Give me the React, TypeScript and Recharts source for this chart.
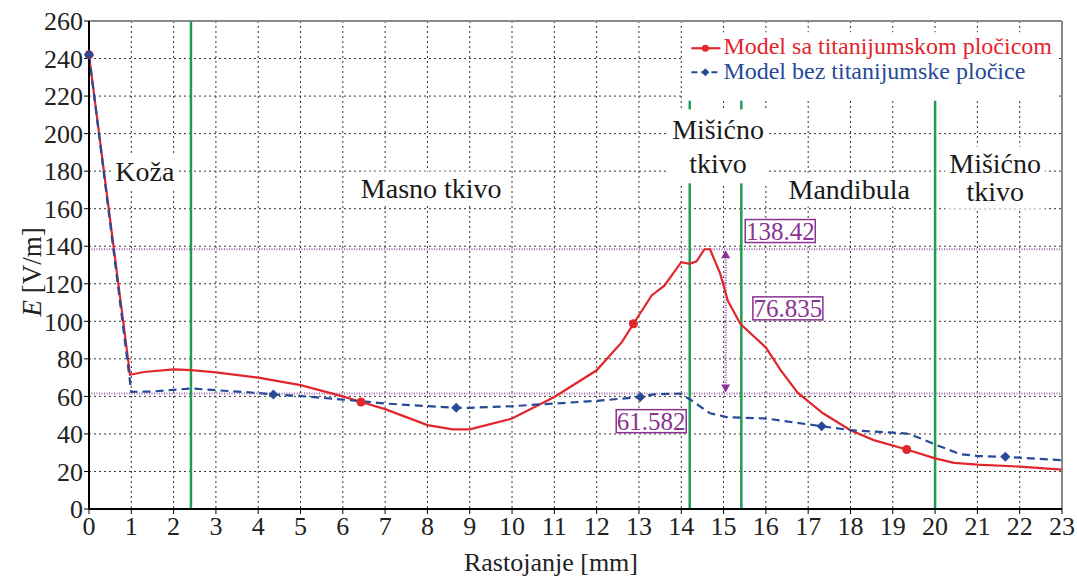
import React from "react";
import {
  LineChart,
  Line,
  XAxis,
  YAxis,
  CartesianGrid,
  ReferenceLine,
  ReferenceDot,
} from "recharts";

const FONT = '"Liberation Serif"';
const RED = "#e1262c";
const BLUE = "#264a98";
const GREEN = "#1f9d55";
const PURPLE = "#8a3391";
const PURPLE_LINE = "#a469b0";

// axis ticks
const xTicks = [0, 1, 2, 3, 4, 5, 6, 7, 8, 9, 10, 11, 12, 13, 14, 15, 16, 17, 18, 19, 20, 21, 22, 23];
const yTicks = [0, 20, 40, 60, 80, 100, 120, 140, 160, 180, 200, 220, 240, 260];

// Model sa titanijumskom pločicom
const redX = [0, 0.97, 1.3, 2, 2.42, 3, 4, 5, 6, 6.43, 7, 8, 8.6, 9, 10, 11, 12, 12.6, 12.87, 13.3, 13.6, 14.0, 14.2, 14.36, 14.55, 14.68, 14.92, 15.1, 15.4, 16.0, 16.35, 16.75, 17.35, 18.0, 18.55, 19.33, 20.0, 20.45, 21.0, 22.0, 23.0];
const redY = [242, 71.5, 73, 74.4, 74, 72.8, 70, 66, 60, 57, 53.2, 44.7, 42.4, 42.4, 48.2, 59.7, 73.9, 89, 98.7, 113.8, 119, 131.5, 130.6, 132, 138.4, 138.4, 125.4, 111, 98.5, 86, 74, 62, 51, 42, 36.7, 31.7, 27, 24.6, 23.6, 22.6, 21];
const redMarkX = [0, 6.43, 12.87, 19.33];

// Model bez titanijumske pločice
const blueX = [0, 1.0, 1.5, 2.42, 3, 4, 4.36, 5, 6, 7, 8, 8.68, 9, 10, 11, 12, 13.03, 13.35, 13.97, 14.2, 14.68, 15.07, 15.4, 16.02, 16.73, 17.32, 18.0, 19.33, 19.57, 20.04, 20.6, 21.03, 21.66, 23];
const blueY = [242, 62.4, 62.6, 64.2, 63.3, 61.8, 61, 60.2, 58.3, 56.2, 54.8, 53.9, 53.9, 54.8, 56.2, 57.6, 59.7, 61.1, 61.5, 58.5, 51, 49, 48.7, 48.2, 45.9, 44.1, 42, 40.2, 38.4, 34, 29.2, 28.2, 27.8, 26];
const blueMarkX = [0, 4.36, 8.68, 13.03, 17.32, 21.66];

// tissue boundaries and measured levels
const boundaryX = [2.41, 14.2, 15.42, 20.0];
const peakLevel = 138.42;
const baseLevel = 61.582;
const diffLabel = "76.835";
const seriesNames = ["Model sa titanijumskom pločicom", "Model bez titanijumske pločice"];

const redData = redX.map((x, i) => ({ x, y: redY[i], mark: redMarkX.includes(x) }));
const blueData = blueX.map((x, i) => ({ x, y: blueY[i], mark: blueMarkX.includes(x) }));

const serif = { fontFamily: FONT };

const redDot = (p: any) =>
  p.payload.mark ? (
    <circle key={`r${p.index}`} cx={p.cx} cy={p.cy} r={4.5} fill={RED} />
  ) : (
    <g key={`r${p.index}`} />
  );

const blueDot = (p: any) =>
  p.payload.mark ? (
    <path
      key={`b${p.index}`}
      d={`M${p.cx},${p.cy - 5}L${p.cx + 5},${p.cy}L${p.cx},${p.cy + 5}L${p.cx - 5},${p.cy}Z`}
      fill={BLUE}
    />
  ) : (
    <g key={`b${p.index}`} />
  );

function TextBox({ cx, cy, lines, w, fontSize = 28, lineH = 28, boxed = false }: any) {
  const h = lines.length * lineH + 6;
  const top = cy - h / 2;
  return (
    <g>
      <rect
        x={cx - w / 2}
        y={top}
        width={w}
        height={h}
        fill="#fff"
        stroke={boxed ? PURPLE : "none"}
        strokeWidth={1.5}
      />
      {lines.map((t: string, i: number) => (
        <text
          key={t + i}
          x={cx}
          y={top + 3 + lineH * (i + 0.5)}
          dy="0.34em"
          textAnchor="middle"
          style={serif}
          fontSize={fontSize}
          fill={boxed ? PURPLE : "#1a1a1a"}
        >
          {t}
        </text>
      ))}
    </g>
  );
}

function LegendBox({ cx, cy }: any) {
  return (
    <g>
      <rect x={cx} y={cy} width={374} height={66} fill="#fff" />
      <line x1={cx + 8} x2={cx + 37} y1={cy + 16} y2={cy + 16} stroke={RED} strokeWidth={2.2} />
      <circle cx={cx + 22} cy={cy + 16} r={3.5} fill={RED} />
      <text x={cx + 40} y={cy + 22} style={serif} fontSize={24} fill={RED}>
        {seriesNames[0]}
      </text>
      <line
        x1={cx + 8}
        x2={cx + 37}
        y1={cy + 40}
        y2={cy + 40}
        stroke={BLUE}
        strokeWidth={2.2}
        strokeDasharray="6 4"
      />
      <path
        d={`M${cx + 22},${cy + 36}L${cx + 26},${cy + 40}L${cx + 22},${cy + 44}L${cx + 18},${cy + 40}Z`}
        fill={BLUE}
      />
      <text x={cx + 40} y={cy + 47} style={serif} fontSize={24} fill={BLUE}>
        {seriesNames[1]}
      </text>
    </g>
  );
}

const arrowUp = ({ cx, cy }: any) => (
  <path d={`M${cx},${cy}L${cx + 4.5},${cy + 8}L${cx - 4.5},${cy + 8}Z`} fill={PURPLE} />
);
const arrowDown = ({ cx, cy }: any) => (
  <path d={`M${cx},${cy}L${cx + 4.5},${cy - 8}L${cx - 4.5},${cy - 8}Z`} fill={PURPLE} />
);

export default function App() {
  return (
    <div style={{ position: "absolute", left: 0, top: 0, background: "#fff" }}>
      <LineChart width={1077} height={581} margin={{ top: 21, right: 15, left: 0, bottom: 0 }}>
        <CartesianGrid stroke="#333" strokeDasharray="2 3" strokeWidth={1} />
        <XAxis
          dataKey="x"
          type="number"
          domain={[0, 23]}
          ticks={xTicks}
          interval={0}
          height={72}
          axisLine={{ stroke: "#000", strokeWidth: 2 }}
          tickLine={{ stroke: "#000" }}
          tickSize={5}
          tickMargin={3}
          tick={{ fill: "#222", fontSize: 26, style: serif }}
          label={{
            content: () => (
              <text x={551} y={571} textAnchor="middle" style={serif} fontSize={26} fill="#222">
                Rastojanje [mm]
              </text>
            ),
          }}
        />
        <YAxis
          type="number"
          domain={[0, 260]}
          ticks={yTicks}
          interval={0}
          width={89}
          axisLine={{ stroke: "#000", strokeWidth: 2 }}
          tickLine={{ stroke: "#000" }}
          tickSize={5}
          tickMargin={1}
          tick={{ fill: "#222", fontSize: 26, style: serif }}
          label={{
            content: () => (
              <text
                transform="translate(41,272) rotate(-90)"
                textAnchor="middle"
                style={serif}
                fontSize={27}
                fill="#222"
              >
                <tspan fontStyle="italic">E</tspan> [V/m]
              </text>
            ),
          }}
        />

        <ReferenceLine y={260} stroke="#8a8a8a" strokeWidth={2} />
        <ReferenceLine x={23} stroke="#8a8a8a" strokeWidth={2} />

        <ReferenceLine y={peakLevel} stroke={PURPLE_LINE} strokeWidth={2} strokeDasharray="1 1.5" />
        <ReferenceLine y={baseLevel} stroke={PURPLE_LINE} strokeWidth={2} strokeDasharray="1 1.5" />

        <ReferenceLine x={boundaryX[0]} stroke={GREEN} strokeWidth={2.5} />
        {boundaryX.slice(1).map((bx) => (
          <ReferenceLine
            key={bx}
            segment={[
              { x: bx, y: 217.5 },
              { x: bx, y: 0 },
            ]}
            stroke={GREEN}
            strokeWidth={2.5}
          />
        ))}

        <ReferenceLine
          segment={[
            { x: 15.05, y: 63 },
            { x: 15.05, y: 136 },
          ]}
          stroke={PURPLE_LINE}
          strokeWidth={2.5}
          strokeDasharray="1 1.5"
        />
        <ReferenceDot x={15.05} y={peakLevel - 0.5} r={0} shape={arrowUp} />
        <ReferenceDot x={15.05} y={baseLevel + 0.5} r={0} shape={arrowDown} />

        <ReferenceDot x={1.32} y={180} r={0} shape={(p: any) => <TextBox {...p} lines={["Koža"]} w={66} />} />
        <ReferenceDot x={8.09} y={170.7} r={0} shape={(p: any) => <TextBox {...p} lines={["Masno tkivo"]} w={140} />} />
        <ReferenceDot
          x={14.87}
          y={193.2}
          r={0}
          shape={(p: any) => <TextBox {...p} lines={["Mišićno", "tkivo"]} w={100} lineH={34} />}
        />
        <ReferenceDot x={17.97} y={170.2} r={0} shape={(p: any) => <TextBox {...p} lines={["Mandibula"]} w={130} />} />
        <ReferenceDot
          x={21.42}
          y={176.5}
          r={0}
          shape={(p: any) => <TextBox {...p} lines={["Mišićno", "tkivo"]} w={100} />}
        />

        <ReferenceDot
          x={16.34}
          y={148.1}
          r={0}
          shape={(p: any) => <TextBox {...p} lines={[peakLevel.toFixed(2)]} w={70} fontSize={25} lineH={17} boxed />}
        />
        <ReferenceDot
          x={16.52}
          y={106.9}
          r={0}
          shape={(p: any) => <TextBox {...p} lines={[diffLabel]} w={70} fontSize={25} lineH={17} boxed />}
        />
        <ReferenceDot
          x={13.29}
          y={46.8}
          r={0}
          shape={(p: any) => <TextBox {...p} lines={[baseLevel.toFixed(3)]} w={70} fontSize={25} lineH={17} boxed />}
        />

        <ReferenceDot x={14.05} y={254} r={0} shape={(p: any) => <LegendBox {...p} />} />

        <Line
          data={redData}
          dataKey="y"
          type="linear"
          stroke={RED}
          strokeWidth={2.2}
          dot={redDot}
          activeDot={false}
          isAnimationActive={false}
        />
        <Line
          data={blueData}
          dataKey="y"
          type="linear"
          stroke={BLUE}
          strokeWidth={2.2}
          strokeDasharray="8 5"
          dot={blueDot}
          activeDot={false}
          isAnimationActive={false}
        />
      </LineChart>
    </div>
  );
}
